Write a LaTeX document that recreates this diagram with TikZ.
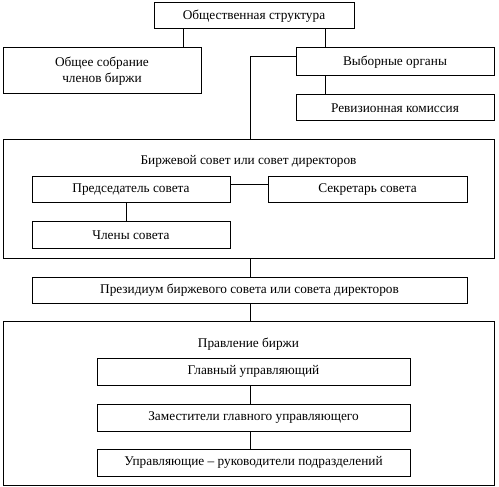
\documentclass[tikz,border=0pt]{standalone}
\usepackage{fontspec}
\setmainfont{Liberation Serif}

\begin{document}
\begin{tikzpicture}[x=1pt,y=-1pt,font=\fontsize{13.3}{15.5}\selectfont,line width=1pt,
  box/.style={draw,inner sep=0pt,align=center}]
\useasboundingbox (0,0) rectangle (499,487);

\coordinate (lx) at (183,0);
\coordinate (rx) at (325,0);
\coordinate (spine) at (250,0);
\coordinate (cx) at (126,0);

\node[box,minimum width=200,minimum height=26] (soc) at (254,16) {Общественная структура};
\node[box,minimum width=198,minimum height=46] (sobr) at (102,71) {Общее собрание\\членов биржи};
\node[box,minimum width=198,minimum height=28] (vyb) at (395,62) {Выборные органы};
\node[box,minimum width=198,minimum height=26] (rev) at (395,108) {Ревизионная комиссия};

\draw (soc.south -| lx) -- (sobr.north -| lx);
\draw (soc.south -| rx) -- (vyb.north -| rx);
\draw (vyb.south -| rx) -- (rev.north -| rx);

% council
\node[box,minimum width=491,minimum height=118] (sovet) at (248.5,199) {};
\node (sovtitle) at (248.5,161) {Биржевой совет или совет директоров};
\node[box,minimum width=198,minimum height=26] (chair) at (131,190) {Председатель совета};
\node[box,minimum width=199,minimum height=26] (secr) at (367.5,190) {Секретарь совета};
\node[box,minimum width=198,minimum height=26] (memb) at (131,235) {Члены совета};

\draw ([yshift=-9pt]vyb.north west) -| (sovet.north -| spine);
\draw ([yshift=5pt]chair.east) -- ([yshift=5pt]secr.west);
\draw (chair.south -| cx) -- (memb.north -| cx);

\node[box,minimum width=435,minimum height=26] (presid) at (249.5,290) {Президиум биржевого совета или совета директоров};
\draw (sovet.south -| spine) -- (presid.north -| spine);

% board
\node[box,minimum width=491,minimum height=164] (board) at (248.5,403) {};
\node (brdtitle) at (248.5,344) {Правление биржи};
\node[box,minimum width=313,minimum height=27] (head) at (253.5,371.5) {Главный управляющий};
\node[box,minimum width=313,minimum height=27] (dep) at (253.5,417.5) {Заместители главного управляющего};
\node[box,minimum width=313,minimum height=27] (mgr) at (253.5,462.5) {Управляющие -- руководители подразделений};

\draw (presid.south -| spine) -- (board.north -| spine);
\draw (head.south -| spine) -- (dep.north -| spine);
\draw (dep.south -| spine) -- (mgr.north -| spine);

\end{tikzpicture}
\end{document}
